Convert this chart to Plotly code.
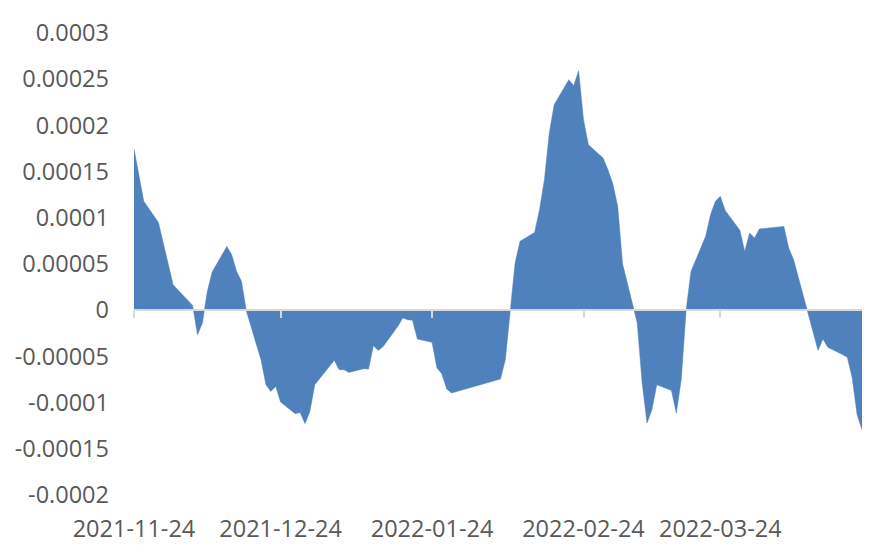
import plotly.graph_objects as go

dates = [
    "2021-11-24", "2021-11-26", "2021-11-29", "2021-11-30", "2021-12-01", "2021-12-02",
    "2021-12-06", "2021-12-07", "2021-12-08", "2021-12-09", "2021-12-10",
    "2021-12-13", "2021-12-14", "2021-12-15", "2021-12-16", "2021-12-17",
    "2021-12-20", "2021-12-21", "2021-12-22", "2021-12-23", "2021-12-24",
    "2021-12-27", "2021-12-28", "2021-12-29", "2021-12-30", "2021-12-31",
    "2022-01-04", "2022-01-05", "2022-01-06", "2022-01-07",
    "2022-01-10", "2022-01-11", "2022-01-12", "2022-01-13", "2022-01-14",
    "2022-01-17", "2022-01-18", "2022-01-19", "2022-01-20", "2022-01-21",
    "2022-01-24", "2022-01-25", "2022-01-26", "2022-01-27", "2022-01-28",
    "2022-02-07", "2022-02-08", "2022-02-09", "2022-02-10", "2022-02-11",
    "2022-02-14", "2022-02-15", "2022-02-16", "2022-02-17", "2022-02-18",
    "2022-02-21", "2022-02-22", "2022-02-23", "2022-02-24", "2022-02-25",
    "2022-02-28", "2022-03-01", "2022-03-02", "2022-03-03", "2022-03-04",
    "2022-03-07", "2022-03-08", "2022-03-09", "2022-03-10", "2022-03-11",
    "2022-03-14", "2022-03-15", "2022-03-16", "2022-03-17", "2022-03-18",
    "2022-03-21", "2022-03-22", "2022-03-23", "2022-03-24", "2022-03-25",
    "2022-03-28", "2022-03-29", "2022-03-30", "2022-03-31", "2022-04-01",
    "2022-04-06", "2022-04-07", "2022-04-08",
    "2022-04-11", "2022-04-12", "2022-04-13", "2022-04-14", "2022-04-15",
    "2022-04-18", "2022-04-19", "2022-04-20", "2022-04-21", "2022-04-22",
]

values = [
    1.745e-4, 1.178e-4, 9.5e-5, 7.2e-5, 5.0e-5, 2.76e-5,
    5.2e-6, -2.65e-5, -1.39e-5, 2.03e-5, 4.13e-5,
    6.9e-5, 6.0e-5, 4.2e-5, 3.12e-5, -1.0e-6,
    -5.36e-5, -8.06e-5, -8.79e-5, -8.25e-5, -9.94e-5,
    -1.12e-4, -1.106e-4, -1.228e-4, -1.095e-4, -8.06e-5,
    -5.43e-5, -6.44e-5, -6.44e-5, -6.73e-5,
    -6.33e-5, -6.37e-5, -3.84e-5, -4.35e-5, -3.92e-5,
    -1.75e-5, -8.5e-6, -1.03e-5, -1.1e-5, -3.12e-5,
    -3.48e-5, -6.26e-5, -6.87e-5, -8.53e-5, -8.96e-5,
    -7.45e-5, -5.36e-5, 2.0e-6, 5.1e-5, 7.45e-5,
    8.42e-5, 1.088e-4, 1.412e-4, 1.918e-4, 2.224e-4,
    2.495e-4, 2.43e-4, 2.592e-4, 2.062e-4, 1.791e-4,
    1.647e-4, 1.52e-4, 1.369e-4, 1.124e-4, 5.0e-5,
    -1.39e-5, -7.88e-5, -1.221e-4, -1.077e-4, -8.06e-5,
    -8.68e-5, -1.113e-4, -7.52e-5, 0.0, 4.2e-5,
    7.99e-5, 1.034e-4, 1.178e-4, 1.232e-4, 1.08e-4,
    8.64e-5, 6.36e-5, 8.36e-5, 7.81e-5, 8.79e-5,
    9.07e-5, 6.73e-5, 5.47e-5,
    -5.0e-6, -2.29e-5, -4.35e-5, -3.12e-5, -4.02e-5,
    -4.8e-5, -5.1e-5, -7.34e-5, -1.131e-4, -1.293e-4,
]

x_tick_vals = ["2021-11-24", "2021-12-24", "2022-01-24", "2022-02-24", "2022-03-24"]
x_tick_text = ["2021-11-24", "2021-12-24", "2022-01-24", "2022-02-24", "2022-03-24"]
x_range = ["2021-11-24", "2022-04-22"]

y_tick_vals = [0.0003, 0.00025, 0.0002, 0.00015, 0.0001, 0.00005, 0,
               -0.00005, -0.0001, -0.00015, -0.0002]
y_tick_text = ["0.0003", "0.00025", "0.0002", "0.00015", "0.0001", "0.00005", "0",
               "-0.00005", "-0.0001", "-0.00015", "-0.0002"]
y_range = [-0.0002, 0.0003]

FILL = "#4F81BD"
GRAY_TXT = "#595959"
AXIS_GRAY = "#D9D9D9"
FONT = "Open Sans"

fig = go.Figure()
fig.add_trace(go.Scatter(
    x=dates, y=values, mode="lines", fill="tozeroy",
    fillcolor=FILL, line=dict(color=FILL, width=0.5),
    hoverinfo="x+y", showlegend=False,
))
# invisible trace to host the zero-line axis
fig.add_trace(go.Scatter(
    x=[x_range[0], x_range[1]], y=[0, 0], xaxis="x2", mode="lines",
    line=dict(width=0, color="rgba(0,0,0,0)"), hoverinfo="skip", showlegend=False,
))

zero_pos = (0 - y_range[0]) / (y_range[1] - y_range[0])

fig.update_layout(
    width=876, height=555,
    margin=dict(l=134, r=14, t=33, b=60, autoexpand=False),
    paper_bgcolor="white", plot_bgcolor="white",
    font=dict(family=FONT, size=23.5, color=GRAY_TXT),
    xaxis=dict(
        type="date", range=x_range, automargin=False,
        tickmode="array", tickvals=x_tick_vals, ticktext=x_tick_text,
        showgrid=False, zeroline=False, showline=False, ticks="",
        ticklabelstandoff=17,
        tickfont=dict(family=FONT, size=23.5, color=GRAY_TXT),
    ),
    xaxis2=dict(
        type="date", range=x_range, overlaying="x", anchor="free",
        position=zero_pos, side="bottom", automargin=False,
        tickmode="array", tickvals=x_tick_vals, showticklabels=False,
        showgrid=False, zeroline=False,
        showline=True, linecolor=AXIS_GRAY, linewidth=2,
        ticks="outside", ticklen=7, tickwidth=1.5, tickcolor=AXIS_GRAY,
        layer="above traces",
    ),
    yaxis=dict(
        range=y_range, tickmode="array", tickvals=y_tick_vals, ticktext=y_tick_text,
        showgrid=False, zeroline=False, showline=False, ticks="",
        automargin=False, ticklabelstandoff=24,
        tickfont=dict(family=FONT, size=23.5, color=GRAY_TXT),
    ),
)

fig.write_html(
    "out.html",
    config={"displayModeBar": False},
    post_script="document.body.style.margin='0';",
)
